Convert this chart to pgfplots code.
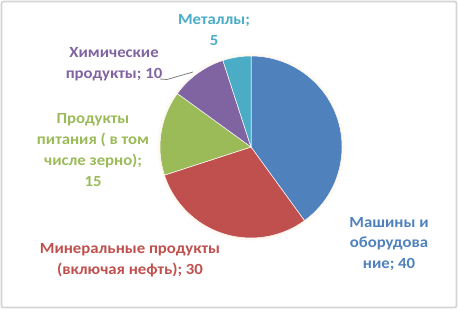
\documentclass[border=0pt]{standalone}
\usepackage{pgfplots}
\usepackage{pgfplotstable}
\pgfplotsset{compat=1.18}
\usepackage{fontspec}
\setmainfont{Carlito}[FakeStretch=1.08]
\definecolor{cBlue}{HTML}{4F81BD}
\definecolor{cRed}{HTML}{C0504D}
\definecolor{cGreen}{HTML}{9BBB59}
\definecolor{cPurple}{HTML}{8064A2}
\definecolor{cTeal}{HTML}{4BACC6}
\tikzset{lbl/.style={font=\fontsize{15.5bp}{20.8bp}\selectfont\bfseries, align=center, inner sep=0pt}}
\pgfplotstableread{
label value
Machines 40
Minerals 30
Food 15
Chemicals 10
Metals 5
}\piedata
\begin{document}
\begin{tikzpicture}
\pgfplotstablegetelem{0}{value}\of\piedata\let\vA\pgfplotsretval
\pgfplotstablegetelem{1}{value}\of\piedata\let\vB\pgfplotsretval
\pgfplotstablegetelem{2}{value}\of\piedata\let\vC\pgfplotsretval
\pgfplotstablegetelem{3}{value}\of\piedata\let\vD\pgfplotsretval
\pgfplotstablegetelem{4}{value}\of\piedata\let\vE\pgfplotsretval
\pgfmathsetmacro\tot{\vA+\vB+\vC+\vD+\vE}
\pgfmathsetmacro\aO{90}
\pgfmathsetmacro\aA{\aO-360*\vA/\tot}
\pgfmathsetmacro\aB{\aA-360*\vB/\tot}
\pgfmathsetmacro\aC{\aB-360*\vC/\tot}
\pgfmathsetmacro\aD{\aC-360*\vD/\tot}
\pgfmathsetmacro\aE{\aD-360*\vE/\tot}
\def\R{91bp}
\begin{axis}[
  x=1bp, y=1bp,
  xmin=0, xmax=458, ymin=0, ymax=309,
  hide axis, clip=false,
]
\path (axis cs:0,0) rectangle (axis cs:458,309);
\draw[draw=black!17, line width=1.8bp, rounded corners=2bp] (axis cs:1.5,1.5) rectangle (axis cs:456.5,307.5);
% soft glow
\addplot[draw=orange!5, line width=2.5bp] coordinates {(251,162)} ++(0:\R+1.2bp) arc[start angle=0, end angle=360, radius=\R+1.2bp];
\addplot[fill=cBlue, draw=white, line width=0.5bp] coordinates {(251,162)} -- ++(\aO:\R) arc[start angle=\aO, end angle=\aA, radius=\R] -- cycle;
\addplot[fill=cRed, draw=white, line width=0.5bp] coordinates {(251,162)} -- ++(\aA:\R) arc[start angle=\aA, end angle=\aB, radius=\R] -- cycle;
\addplot[fill=cGreen, draw=white, line width=0.5bp] coordinates {(251,162)} -- ++(\aB:\R) arc[start angle=\aB, end angle=\aC, radius=\R] -- cycle;
\addplot[fill=cPurple, draw=white, line width=0.5bp] coordinates {(251,162)} -- ++(\aC:\R) arc[start angle=\aC, end angle=\aD, radius=\R] -- cycle;
\addplot[fill=cTeal, draw=white, line width=0.5bp] coordinates {(251,162)} -- ++(\aD:\R) arc[start angle=\aD, end angle=\aE, radius=\R] -- cycle;
% leader line
\addplot[draw=black!50, line width=0.8bp] coordinates {(160,230) (167,229.5) (193,237)};
\node[lbl, text=cTeal] at (axis cs:214,279) {Металлы;\\5};
\node[lbl, text=cPurple] at (axis cs:114,244.5) {Химические\\продукты; 10};
\node[lbl, text=cGreen] at (axis cs:93,159) {Продукты\\питания ( в том\\числе зерно);\\15};
\node[lbl, text=cRed] at (axis cs:130,49) {Минеральные продукты\\(включая нефть); 30};
\node[lbl, text=cBlue] at (axis cs:389,65) {Машины и\\оборудова\\ние; 40};
\end{axis}
\end{tikzpicture}
\end{document}
